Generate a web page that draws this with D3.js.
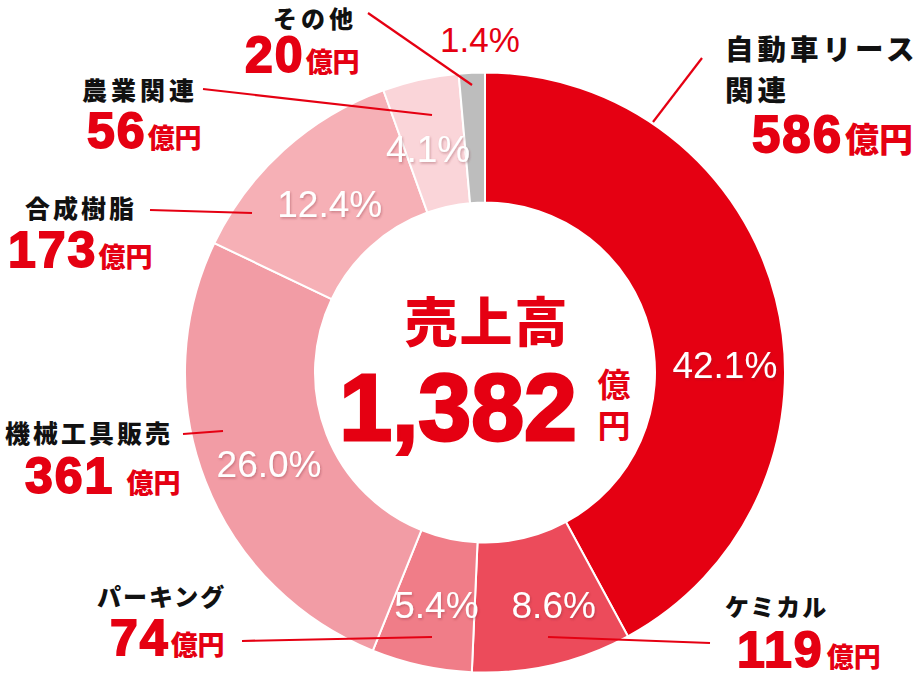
<!DOCTYPE html>
<html><head><meta charset="utf-8">
<script src="https://cdn.jsdelivr.net/npm/d3@7"></script>
<style>
html,body{margin:0;padding:0;background:#fff;}
svg{display:block;}
.jp{font-family:"Noto Sans CJK JP","Noto Sans",sans-serif;}
.num{font-family:"Liberation Sans",Arial,sans-serif;font-weight:700;}
</style></head>
<body><div id="chart"></div>
<script>
// ---- data ----
const categories = ["自動車リース関連","ケミカル","パーキング","機械工具販売","合成樹脂","農業関連","その他"];
const values = [586,119,74,361,173,56,20];          // 億円
const shares = [42.1,8.6,5.4,26.0,12.4,4.1,1.4];     // %
const shareLabels = ["42.1%","8.6%","5.4%","26.0%","12.4%","4.1%","1.4%"];
const totalLabel = "1,382";
const centerTitle = "売上高";
const unit = "億円";
const colors = ["#e50012","#ec4b5b","#f07d88","#f29ca5","#f6b0b6","#fad5d9","#bdbdbd"];

// ---- layout (annotation placement) ----
const W = 922, H = 681, cx = 485, cy = 372.5, R = 300, r0 = 170;
const nameLayout = [
  {lines:["自動車リース","関連"], x:725, y:[59.5,101], size:28.5, ls:4},
  {lines:["ケミカル"], x:725, y:[616], size:24, ls:2},
  {lines:["パーキング"], x:97, y:[606], size:24, ls:2},
  {lines:["機械工具販売"], x:5, y:[443], size:25, ls:3},
  {lines:["合成樹脂"], x:25, y:[218], size:25, ls:3},
  {lines:["農業関連"], x:82, y:[100], size:25, ls:4},
  {lines:["その他"], x:273, y:[28], size:24, ls:4}
];
const valueLayout = [
  {x:752, y:152, nsize:51, usize:34, gap:2},
  {x:737, y:667, nsize:50, usize:27, gap:3},
  {x:110, y:655, nsize:50, usize:27, gap:1},
  {x:25, y:493, nsize:50, usize:27, gap:12},
  {x:8, y:267, nsize:50, usize:27, gap:1},
  {x:87, y:148, nsize:50, usize:27, gap:1},
  {x:245, y:72, nsize:50, usize:27, gap:1}
];
const leaders = [
  [[653,122],[702,58]],
  [[548,637],[710,643]],
  [[432,637],[242,641]],
  [[223,431],[183,434]],
  [[252,213],[150,210]],
  [[432,115],[203,89]],
  [[472,85],[368,13]]
];
// percent label placement in polar coords [deg, radius] around the centre
const pctPolar = [[88.2,240],[163.5,242],[191.8,237.5],[247,234.6],[317.3,229],[345.7,230.6],[null,null]];

const svg = d3.select("#chart").append("svg").attr("width",W).attr("height",H);
const defs = svg.append("defs");
const f = defs.append("filter").attr("id","sh").attr("x","-20%").attr("y","-20%").attr("width","140%").attr("height","140%");
f.append("feDropShadow").attr("dx",1).attr("dy",1.5).attr("stdDeviation",1.2).attr("flood-color","#7a2a30").attr("flood-opacity",0.35);

const pie = d3.pie().sort(null).value((d,i)=>shares[i]);
const arcs = pie(categories);
const arc = d3.arc().innerRadius(r0).outerRadius(R);

const g = svg.append("g").attr("transform",`translate(${cx},${cy})`);
g.selectAll("path.seg").data(arcs).join("path")
  .attr("class","seg")
  .attr("d",arc)
  .attr("fill",(d,i)=>colors[i])
  .attr("stroke","#fff").attr("stroke-width",2).attr("stroke-linejoin","bevel");

arcs.forEach((d,i)=>{
  if(i===arcs.length-1){
    svg.append("text").attr("x",480).attr("y",52).attr("text-anchor","middle")
      .attr("font-family","Liberation Sans, Arial, sans-serif").attr("font-size",35)
      .attr("fill","#e50012").text(shareLabels[i]);
    return;
  }
  const [deg, rr] = pctPolar[i];
  const [x,y] = d3.pointRadial(deg*Math.PI/180, rr);
  g.append("text").attr("x",x).attr("y",y+13).attr("text-anchor","middle")
    .attr("font-family","Liberation Sans, Arial, sans-serif").attr("font-size",37)
    .attr("fill","#fff").attr("filter","url(#sh)").text(shareLabels[i]);
});

// leader lines
svg.append("g").selectAll("line").data(leaders).join("line")
  .attr("x1",d=>d[0][0]).attr("y1",d=>d[0][1]).attr("x2",d=>d[1][0]).attr("y2",d=>d[1][1])
  .attr("stroke","#e50012").attr("stroke-width",2.2);

// category names (multi-line names as one text with tspans)
nameLayout.forEach((L,i)=>{
  const t = svg.append("text").attr("class","jp")
      .attr("font-size",L.size).attr("font-weight",900).attr("letter-spacing",L.ls)
      .attr("fill","#111");
  L.lines.forEach((s,j)=>{
    t.append("tspan").attr("x",L.x).attr("y",L.y[j]).text(s);
  });
});
// values
valueLayout.forEach((L,i)=>{
  const t = svg.append("text").attr("x",L.x).attr("y",L.y).attr("fill","#e50012");
  t.append("tspan").attr("class","num").attr("font-size",L.nsize)
    .attr("stroke","#e50012").attr("stroke-width",1.8).attr("letter-spacing",2).text(values[i]);
  t.append("tspan").attr("class","jp").attr("dx",L.gap).attr("font-size",L.usize).attr("font-weight",900).text(unit);
});

// center
svg.append("text").attr("class","jp").attr("x",cx+2).attr("y",342).attr("text-anchor","middle")
  .attr("font-size",53).attr("font-weight",900).attr("letter-spacing",2).attr("fill","#e50012").text(centerTitle);
svg.append("text").attr("class","num").attr("x",458).attr("y",440).attr("text-anchor","middle")
  .attr("font-size",95).attr("fill","#e50012").attr("stroke","#e50012").attr("stroke-width",3).text(totalLabel);
svg.append("text").attr("class","jp")
  .attr("x",614).attr("y",368)
  .style("writing-mode","vertical-rl")
  .attr("letter-spacing",8)
  .attr("font-size",33).attr("font-weight",700).attr("fill","#e50012").text(unit);
</script></body></html>
